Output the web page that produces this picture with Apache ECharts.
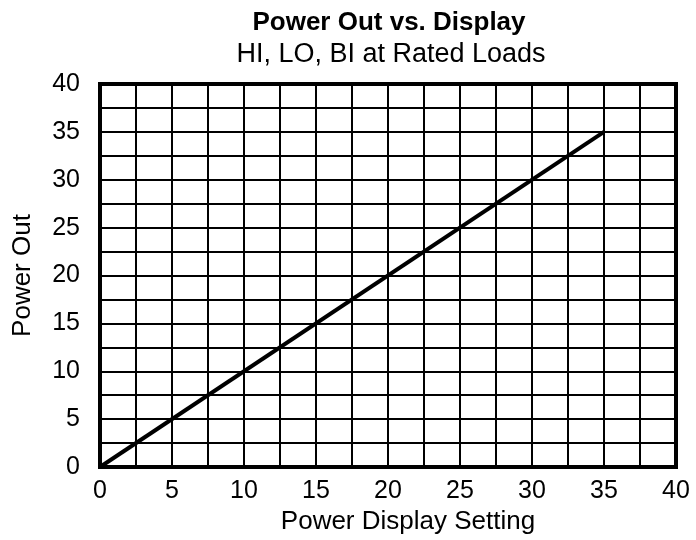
<!DOCTYPE html>
<html>
<head>
<meta charset="utf-8">
<script src="https://cdn.jsdelivr.net/npm/echarts@6/dist/echarts.min.js"></script>
<style>
html, body { margin: 0; padding: 0; background: #fff; }
#chart { width: 696px; height: 540px; }
</style>
</head>
<body>
<div id="chart"></div>
<script>
// data
const displaySetting = [0, 35];
const powerOut = [0, 35];

const titleText = "Power Out vs. Display";
const subtitleText = "HI, LO, BI at Rated Loads";
const xName = "Power Display Setting";
const yName = "Power Out";

const font = "'Liberation Sans', Arial, Helvetica, sans-serif";

const chart = echarts.init(document.getElementById("chart"));

const axisCommon = {
  type: "value",
  min: 0,
  max: 40,
  interval: 5,
  nameLocation: "middle",
  nameTextStyle: { color: "#000", fontSize: 26, fontFamily: font },
  axisLine: { show: true, lineStyle: { color: "#000", width: 4 } },
  axisTick: { show: false },
  axisLabel: { color: "#000", fontSize: 25, fontFamily: font },
  splitLine: { show: true, lineStyle: { color: "#000", width: 2 } },
  minorTick: { show: false, splitNumber: 2 },
  minorSplitLine: { show: true, lineStyle: { color: "#000", width: 2 } }
};

const option = {
  backgroundColor: "#fff",
  animation: false,
  title: [
    {
      text: titleText,
      left: 384,
      top: 5,
      textAlign: "center",
      textStyle: { color: "#000", fontSize: 26, fontWeight: "bold", fontFamily: font }
    },
    {
      text: subtitleText,
      left: 386,
      top: 36,
      textAlign: "center",
      textStyle: { color: "#000", fontSize: 27, fontWeight: "normal", fontFamily: font }
    }
  ],
  grid: {
    left: 100,
    right: 20,
    top: 84,
    bottom: 72,
    show: true,
    borderColor: "#000",
    borderWidth: 4,
    backgroundColor: "#fff"
  },
  xAxis: Object.assign({}, axisCommon, {
    name: xName,
    nameGap: 42,
    nameTextStyle: Object.assign({}, axisCommon.nameTextStyle, { padding: [0, 0, 0, 40] }),
    axisLabel: Object.assign({}, axisCommon.axisLabel, { margin: 12 })
  }),
  yAxis: Object.assign({}, axisCommon, {
    name: yName,
    nameGap: 64,
    axisLabel: Object.assign({}, axisCommon.axisLabel, { margin: 20 })
  }),
  series: [
    {
      type: "line",
      data: displaySetting.map((x, i) => [x, powerOut[i]]),
      symbol: "none",
      lineStyle: { color: "#000", width: 4 },
      z: 5
    }
  ]
};

chart.setOption(option);
</script>
</body>
</html>
